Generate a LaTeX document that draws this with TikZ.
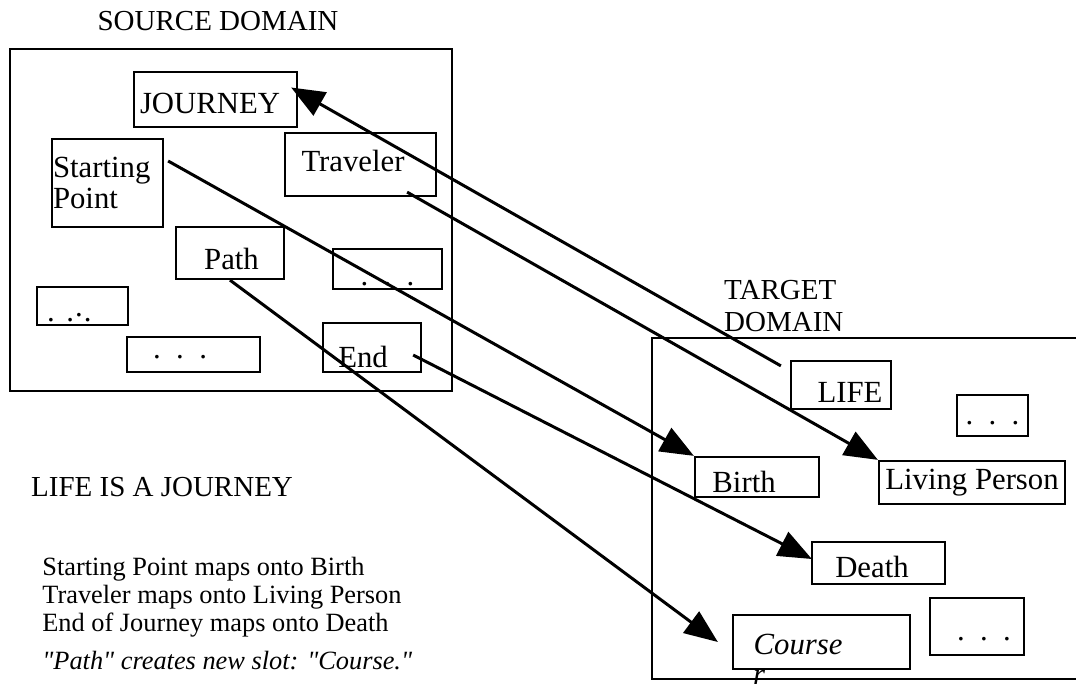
\documentclass[tikz,border=0pt]{standalone}
\usepackage{fontspec}
\setmainfont{Liberation Serif}[Ligatures=TeXOff]
\usetikzlibrary{arrows.meta}
\tikzstyle{tips}=[%
	 bigtip/.tip = {Triangle[length=19pt, width=15pt]},
	 -bigtip]
\newcommand{\slotfont}{\fontsize{17.5}{17.5}\selectfont}
\newcommand{\headfont}{\fontsize{16.5}{18}\selectfont}
\newcommand{\notefont}{\fontsize{15}{15.9}\selectfont}
% move a label inside its box: #1 kern (twice the shift), #2 drop
\newcommand{\nudge}[3]{\kern#1\raisebox{-#2}[\height][\depth]{#3}}
\newcommand{\etc}{.\hspace{0.5em}.\hspace{0.5em}.}

\begin{document}
\begin{tikzpicture}[tips, x=0.02cm, y=-0.02cm]
			\useasboundingbox (0,0) rectangle (1076,690);
			\tikzstyle{slot}=[draw, line width=1.3pt, inner sep=0pt, font=\slotfont]
			\tikzstyle{domainbox}=[draw, line width=1.3pt, inner sep=0pt]
			\tikzstyle{link}=[line width=1.7pt]
			% source domain
			\node[font=\headfont] (srchead) at (218,21) {SOURCE DOMAIN};
			\node[domainbox, minimum width=8.84cm, minimum height=6.84cm] (source) at (231,220) {};
			\node[slot, minimum width=3.26cm, minimum height=1.10cm] (journey) at (215.5,99.5) {\nudge{-6.2pt}{2.3pt}{JOURNEY}};
			\node[slot, minimum width=2.22cm, minimum height=1.76cm, text width=2.18cm, align=left] (startpt) at (107.5,183) {Starting\\Point};
			\node[slot, minimum width=3.02cm, minimum height=1.26cm] (traveler) at (360.5,164.5) {\nudge{-8.5pt}{-2pt}{Traveler}};
			\node[slot, minimum width=2.16cm, minimum height=1.04cm] (pathslot) at (230,253) {\nudge{1.7pt}{3.4pt}{Path}};
			\node[slot, minimum width=2.18cm, minimum height=0.80cm] (etcright) at (387.5,269) {\nudge{0pt}{8.8pt}{\etc}};
			\node[slot, minimum width=1.82cm, minimum height=0.76cm] (etcleft) at (82.5,306) {\nudge{-15pt}{6.6pt}{.\hspace{6.5pt}.\hspace{0.6pt}\raisebox{2.5pt}{.}\hspace{0.6pt}.}};
			\node[slot, minimum width=2.66cm, minimum height=0.70cm] (etcbottom) at (193.5,354.5) {\nudge{-15.3pt}{1.7pt}{\etc}};
			\node[slot, minimum width=1.96cm, minimum height=0.98cm] (endslot) at (372,347.5) {\nudge{-10.2pt}{5.4pt}{End}};
			% target domain
			\node[font=\headfont, align=left, anchor=west] (tgthead) at (718,306) {TARGET\\DOMAIN};
			\node[domainbox, minimum width=8.96cm, minimum height=6.82cm] (target) at (876,508.5) {};
			\node[slot, minimum width=2.00cm, minimum height=0.96cm] (life) at (841,385) {\nudge{10.2pt}{4.5pt}{LIFE}};
			\node[slot, minimum width=1.42cm, minimum height=0.82cm] (etcupper) at (992.5,415.5) {\nudge{0pt}{4.4pt}{\etc}};
			\node[slot, minimum width=2.48cm, minimum height=0.80cm] (birth) at (757,477) {\nudge{-14.7pt}{3.1pt}{Birth}};
			\node[slot, minimum width=3.72cm, minimum height=0.86cm] (person) at (972,482.5) {Living Person};
			\node[slot, minimum width=2.66cm, minimum height=0.84cm] (death) at (878.5,563) {\nudge{-7.4pt}{2pt}{Death}};
			\node[slot, minimum width=3.54cm, minimum height=1.08cm] (course) at (821.5,642) {\nudge{-26.6pt}{1.7pt}{\textit{Course}}};
			\node[font=\slotfont\itshape, inner sep=0pt] (courser) at (759,677) {r};
			\node[slot, minimum width=1.88cm, minimum height=1.14cm] (etclower) at (977,626.5) {\nudge{7.9pt}{7.4pt}{\etc}};
			% mappings
			\draw[link] ([shift={(-9,6)}]life.north west) -- ([shift={(-7,-12)}]journey.east);
			\draw[link] ([shift={(-30,-5)}]traveler.south east) -- (person.north west);
			\draw[link] ([shift={(4,-22)}]startpt.east) -- (birth.north west);
			\draw[link] ([shift={(-9,7.5)}]endslot.east) -- ([shift={(1,-4)}]death.west);
			\draw[link] (pathslot.south) -- ([shift={(-14,0)}]course.west);
			% notes
			\node[font=\headfont, anchor=west] (title) at (25,487) {LIFE IS A JOURNEY};
			\node[font=\notefont, align=left, anchor=base west, inner sep=0pt] (maps) at (42,631) {Starting Point maps onto Birth\\Traveler maps onto Living Person\\End of Journey maps onto Death};
			\node[font=\notefont\itshape, anchor=base west, inner sep=0pt] (newslot) at (42,669) {"Path" creates new slot: "Course."};
		\end{tikzpicture}
\end{document}
